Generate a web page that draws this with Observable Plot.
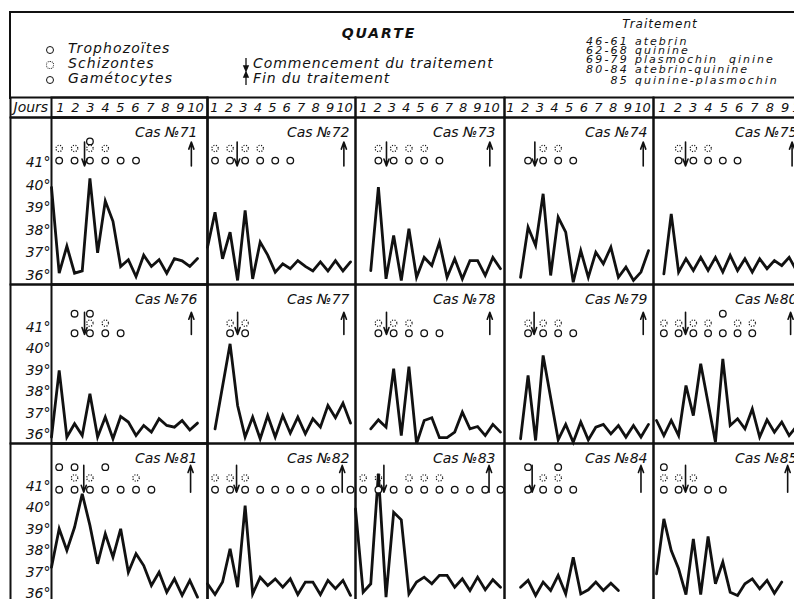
<!DOCTYPE html>
<html><head><meta charset="utf-8">
<script src="https://cdn.jsdelivr.net/npm/d3@7"></script>
<script src="https://cdn.jsdelivr.net/npm/@observablehq/plot@0.6"></script>
<style>
html,body{margin:0;padding:0;background:#fff;}
#page{position:relative;width:794px;height:599px;overflow:hidden;font-family:"DejaVu Sans",sans-serif;color:#111;background:#fff;}
#hdr{position:absolute;left:9px;top:11px;width:800px;height:86px;border-top:2px solid #111;border-left:2px solid #111;}
.abs{position:absolute;}
</style></head><body><div id="page"><div id="hdr"></div></div>
<script>
// ---------------- DATA ----------------
const cases = [71,72,73,74,75,76,77,78,79,80,81,82,83,84,85];
const days = [1,2,3,4,5,6,7,8,9,10];
const tempTicks = [36,37,38,39,40,41];
// temperature readings, two per day (null = no reading)
const t71 = [39.9,36.1,37.3,36.1,36.2,40.3,37.0,39.3,38.4,36.4,36.7,35.95,36.9,36.4,36.7,36.1,36.75,36.65,36.4,36.75];
const t72 = [37.25,38.8,36.74,37.92,35.78,38.88,35.85,37.48,36.9,36.15,36.52,36.3,36.66,36.4,36.2,36.6,36.2,36.66,36.2,36.6];
const t73 = [null,null,36.22,39.91,35.85,37.77,35.78,38.07,35.92,36.8,36.44,37.47,35.92,36.74,35.85,36.66,36.66,36.0,36.8,36.3];
const t74 = [null,null,35.92,38.14,37.33,39.62,36.0,38.58,37.92,35.7,37.1,35.92,37.03,36.52,37.25,35.92,36.37,35.78,36.15,37.1];
const t75 = [null,36.07,38.73,36.15,36.74,36.22,36.8,36.22,36.8,36.15,36.89,36.22,36.74,36.15,36.74,36.3,36.66,36.44,36.8,36.22];
const t76 = [35.9,39.0,35.9,36.52,35.97,37.91,35.9,36.83,35.82,36.86,36.6,35.97,36.44,36.13,36.75,36.44,36.36,36.67,36.23,36.55];
const t77 = [null,36.28,null,40.24,37.37,35.9,36.83,35.82,36.9,35.9,36.9,36.08,36.83,36.05,36.75,36.36,37.37,36.8,37.48,36.55];
const t78 = [null,null,36.28,36.7,36.36,39.08,35.97,39.18,35.59,36.67,36.8,35.87,35.87,36.13,37.06,36.28,36.39,35.97,36.49,36.13];
const t79 = [null,null,35.82,38.77,35.74,39.7,null,35.77,36.49,35.66,36.6,35.77,36.36,36.49,36.05,36.44,35.9,36.44,35.9,36.49];
const t80 = [36.67,35.97,36.67,35.97,38.3,36.9,39.31,null,35.66,39.54,36.44,36.75,36.28,37.21,35.9,36.7,36.13,36.6,35.97,36.4];
const t81 = [37.24,39.03,38.02,39.1,40.66,39.19,37.4,38.8,37.71,39.03,37.01,37.87,37.32,36.39,37.01,36.08,36.7,35.93,36.63,35.85];
const t82 = [36.47,35.97,36.55,38.1,36.31,40.11,36.0,36.77,36.39,36.7,36.31,36.7,35.97,36.55,36.55,35.97,36.63,36.24,36.63,35.93];
const t83 = [39.96,36.08,36.47,41.6,35.85,39.8,39.45,36.0,36.55,36.78,36.47,36.86,36.86,36.31,36.7,36.16,36.78,36.19,36.66,36.31];
const t84 = [null,null,36.31,36.63,35.93,36.55,36.16,36.86,36.0,37.71,36.0,36.19,36.55,36.16,36.5,36.16,null,null,null,null];
const t85 = [36.93,39.49,38.02,37.17,35.97,38.56,35.97,38.67,36.47,37.48,36.08,35.93,36.47,36.7,36.24,36.63,36.03,36.55,null,null];
const readings = [t71,t72,t73,t74,t75,t76,t77,t78,t79,t80,t81,t82,t83,t84,t85];
// parasite findings (days)
const troph = [[1,2,3,4,5,6],[1,2,3,4,5,6],[2,3,4,5,6],[2,3,4,5],[2,3,4,5,6],[2,3,4,5],[2,3],[2,3,4,5,6],[2,3,4,5],[1,2,3,4,5,6,7],[1,2,3,4,5,6,7],[1,2,3,4,5,6,7,8,9,10],[1,2,3,4,5,6,7,8,9,10],[2,3,4,5],[1,2,3,4,5]];
const schiz = [[1,2,3,4],[1,2,3,4],[2,3,4,5],[3,4],[2,3,4],[3,4],[2,3],[2,3,4],[2,3,4],[1,2,3,4,6,7],[2,3,6],[1,2,3],[1,2,4,5,6],[3,4],[1,2,3]];
const gamet = [[3],[],[],[],[],[2,3],[],[],[],[5],[1,2,4],[],[],[2,4],[1]];
// treatment start / end (day)
const startDay = [2.65,2.47,2.53,2.45,2.47,2.65,2.5,2.53,2.4,2.47,2.6,2.43,2.36,2.27,2.47];
const endDay = [9.6,9.56,9.3,9.65,9.7,9.6,9.56,9.3,9.65,9.6,9.55,9.45,9.25,9.5,9.4];
// header texts
const legendNames = ["Trophozoïtes","Schizontes","Gamétocytes"];
const arrowNames = ["Commencement du traitement","Fin du traitement"];
const treatRanges = ["46-61","62-68","69-79","80-84","85"];
const treatNames = ["atebrin","quinine","plasmochin  qinine","atebrin-quinine","quinine-plasmochin"];

// ---------------- LAYOUT ----------------
const INK = "#111";
const FONT = "DejaVu Sans";
const colLeft = [10,207,355,504,653];
const colRight = [207,355,504,653,803];
const innerOff = [41,0,0,0,0];
const curveRange = [[0,146],[0,143],[0,145],[1,144],[3,143]];
const dayRange = [[9,144],[7,137],[8,136],[6,138],[9,147]];
const casDx = [-10,-6,-9,-6,-6];
const rowTop = [117,284,443];
const rowH = [167,159,159];
const levels = [
  {troph:41.09, schiz:41.63, gam:41.94, top:41.91, bot:40.85},
  {troph:40.73, schiz:41.2, gam:41.64, top:41.71, bot:40.67},
  {troph:40.85, schiz:41.4, gam:41.9, top:41.98, bot:40.73}
];
const svgStyle = "overflow: visible; background: transparent; max-width: none;";
const page = document.getElementById("page");

function place(el, x, y, w) {
  const d = document.createElement("div");
  d.className = "abs";
  d.style.left = x + "px"; d.style.top = y + "px"; d.style.width = w + "px";
  d.appendChild(el);
  page.appendChild(d);
}

function band(c) {
  const ml = innerOff[c], W = colRight[c] - colLeft[c];
  const marks = [
    Plot.frame({stroke: INK, strokeWidth: 2}),
    Plot.text(days, {x: d => d, text: d => String(d), fontSize: 13, fontStyle: "italic", fontFamily: FONT, fill: INK})
  ];
  if (c === 0) {
    marks.push(Plot.frame({stroke: INK, strokeWidth: 2, insetLeft: ml}));
    marks.push(Plot.text(["Jours"], {frameAnchor: "left", dx: 3, textAnchor: "start", fontSize: 14, fontStyle: "italic", fontFamily: FONT, fill: INK}));
  }
  return Plot.plot({
    width: W, height: 20, margin: 0, style: svgStyle,
    x: {domain: [1, 10], range: [ml + dayRange[c][0], ml + dayRange[c][1]], axis: null},
    marks
  });
}

function panel(p) {
  const r = Math.floor(p / 5), c = p % 5;
  const ml = innerOff[c], W = colRight[c] - colLeft[c], H = rowH[r];
  const lv = levels[r];
  const data = readings[p].map((v, i) => ({t: (i + 1) / 2, T: v})).filter(d => d.T !== null);
  const marks = [Plot.frame({stroke: INK, strokeWidth: 2})];
  if (c === 0) {
    marks.push(Plot.frame({stroke: INK, strokeWidth: 2, insetLeft: ml}));
    marks.push(Plot.text(tempTicks, {y: d => d, text: d => d + "°", frameAnchor: "left", dx: ml - 1, textAnchor: "end",
      fontSize: 14, fontStyle: "italic", fontFamily: FONT, fill: INK}));
  }
  marks.push(
    Plot.line(data, {x: "t", y: "T", stroke: INK, strokeWidth: 2.8, strokeLinejoin: "miter", strokeMiterlimit: 4}),
    Plot.dot(troph[p], {x: d => d, y: () => lv.troph, r: 3.3, stroke: INK, strokeWidth: 1.3, fill: "white"}),
    Plot.dot(schiz[p], {x: d => d, y: () => lv.schiz, r: 3.2, stroke: INK, strokeWidth: 1.2, strokeDasharray: "1.1,1.5", fill: "none"}),
    Plot.dot(gamet[p], {x: d => d, y: () => lv.gam, r: 3.3, stroke: INK, strokeWidth: 1.3, fill: "white"}),
    Plot.arrow([startDay[p]], {x1: d => d, x2: d => d, y1: () => lv.top, y2: () => lv.bot, stroke: INK, strokeWidth: 1.6, headLength: 7, headAngle: 40}),
    Plot.arrow([endDay[p]], {x1: d => d, x2: d => d, y1: () => lv.bot, y2: () => lv.top, stroke: INK, strokeWidth: 1.6, headLength: 7, headAngle: 40}),
    Plot.text(["Cas №" + cases[p]], {frameAnchor: "top-right", dx: casDx[c], dy: 15.5, lineAnchor: "middle", textAnchor: "end",
      fontSize: 14, fontStyle: "italic", fontFamily: FONT, fill: INK})
  );
  return Plot.plot({
    width: W, height: H, margin: 0, style: svgStyle,
    x: {domain: [0.5, 10], range: [ml + curveRange[c][0], ml + curveRange[c][1]], axis: null},
    y: {domain: [35.6, 43.0], range: [H, 0], axis: null},
    marks
  });
}

for (let c = 0; c < 5; c++) place(band(c), colLeft[c], 97, colRight[c] - colLeft[c]);
for (let p = 0; p < 15; p++) {
  const r = Math.floor(p / 5), c = p % 5;
  place(panel(p), colLeft[c], rowTop[r], colRight[c] - colLeft[c]);
}

// ---------------- HEADER ----------------
function label(text, x, y, o = {}) {
  const {size = 14, anchor = "start", weight = "normal", ls = 1, lh = 1} = o;
  const d = document.createElement("div");
  d.textContent = text;
  const tx = anchor === "start" ? 0 : anchor === "end" ? -100 : -50;
  Object.assign(d.style, {position: "absolute", left: x + "px", top: y + "px", fontSize: size + "px", lineHeight: String(lh),
    fontStyle: "italic", fontWeight: weight, letterSpacing: ls + "px", whiteSpace: "pre", color: INK,
    transform: `translate(${tx}%, -50%)`});
  page.appendChild(d);
}
function circ(x, y, dotted) {
  const d = document.createElement("div");
  Object.assign(d.style, {position: "absolute", left: (x - 4) + "px", top: (y - 4) + "px", width: "6px", height: "6px",
    border: `1.3px ${dotted ? "dotted" : "solid"} ${INK}`, borderRadius: "50%"});
  page.appendChild(d);
}
function arrowIcon(x, y, up) {
  const d = document.createElement("div");
  d.style.position = "absolute"; d.style.left = (x - 4) + "px"; d.style.top = (y - 7) + "px";
  const path = up ? "M4 13 V2 M4 0 L1.8 5 L6.2 5 Z" : "M4 1 V12 M4 14 L1.8 9 L6.2 9 Z";
  d.innerHTML = `<svg width="8" height="14" style="overflow:visible"><path d="${path}" stroke="${INK}" stroke-width="1.3" fill="${INK}"/></svg>`;
  page.appendChild(d);
}

const legendY = [48, 63, 78];
legendNames.forEach((n, i) => { circ(50, legendY[i] + 2, i === 1); label(n, 68, legendY[i], {size: 14, ls: 1.1}); });
label("QUARTE", 379, 33, {size: 14, weight: "bold", anchor: "middle", ls: 2});
arrowNames.forEach((n, i) => { arrowIcon(246, legendY[i + 1], i === 1); label(n, 253, legendY[i + 1], {size: 14, ls: 0.9}); });
label("Traitement", 660, 24, {size: 12, anchor: "middle", ls: 1});
const treatY = [41.7, 50.9, 60.3, 70.3, 80.8];
treatRanges.forEach((n, i) => label(n, 629, treatY[i], {size: 11, anchor: "end", ls: 2.2, lh: 0.85}));
treatNames.forEach((n, i) => label(n, 635, treatY[i], {size: 11, ls: 2, lh: 0.85}));
</script></body></html>
